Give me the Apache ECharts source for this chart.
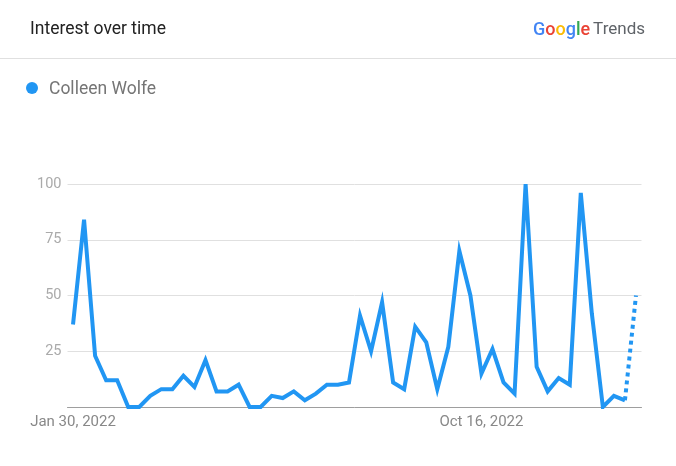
<!DOCTYPE html>
<html>
<head>
<meta charset="utf-8">
<script src="https://cdn.jsdelivr.net/npm/echarts@6/dist/echarts.min.js"></script>
<style>
html,body{margin:0;padding:0;background:#fff;}
#c{width:676px;height:466px;}
</style>
</head>
<body>
<div id="c"></div>
<script>
const weeks = [
 'Jan 30, 2022','Feb 6, 2022','Feb 13, 2022','Feb 20, 2022','Feb 27, 2022','Mar 6, 2022','Mar 13, 2022','Mar 20, 2022','Mar 27, 2022',
 'Apr 3, 2022','Apr 10, 2022','Apr 17, 2022','Apr 24, 2022','May 1, 2022','May 8, 2022','May 15, 2022','May 22, 2022','May 29, 2022',
 'Jun 5, 2022','Jun 12, 2022','Jun 19, 2022','Jun 26, 2022','Jul 3, 2022','Jul 10, 2022','Jul 17, 2022','Jul 24, 2022','Jul 31, 2022',
 'Aug 7, 2022','Aug 14, 2022','Aug 21, 2022','Aug 28, 2022','Sep 4, 2022','Sep 11, 2022','Sep 18, 2022','Sep 25, 2022','Oct 2, 2022',
 'Oct 9, 2022','Oct 16, 2022','Oct 23, 2022','Oct 30, 2022','Nov 6, 2022','Nov 13, 2022','Nov 20, 2022','Nov 27, 2022','Dec 4, 2022',
 'Dec 11, 2022','Dec 18, 2022','Dec 25, 2022','Jan 1, 2023','Jan 8, 2023','Jan 15, 2023','Jan 22, 2023'
];
const colleenWolfe = [
 37,84,23,12,12,0,0,5,8,8,14,9,21,7,7,10,0,0,5,4,7,3,6,10,10,11,41,25,47,11,8,36,29,8,27,70,50,15,26,11,6,100,18,7,13,10,96,42,0,5,3,50
];
const shownXLabels = ['Jan 30, 2022','Oct 16, 2022'];
const yTicks = [25,50,75,100];
const seriesName = 'Colleen Wolfe';

const lastIdx = colleenWolfe.length - 1;
const solidData = colleenWolfe.map((v,i)=> i < lastIdx ? v : null);
const dottedData = colleenWolfe.map((v,i)=> i >= lastIdx-1 ? v : null);
const blue = '#2196f3';

const chart = echarts.init(document.getElementById('c'), null, {renderer:'canvas'});
chart.setOption({
  animation:false,
  backgroundColor:'#fff',
  textStyle:{fontFamily:'Roboto'},
  grid:{left:67.5, right:34.5, top:184, bottom:59, containLabel:false},
  graphic:[
    {type:'text', left:30, top:21, style:{text:'Interest over time', fill:'#222', fontSize:17.5, fontFamily:'Roboto'}},
    {type:'line', shape:{x1:0,y1:58.5,x2:676,y2:58.5}, style:{stroke:'#e0e0e0', lineWidth:1}},
    {type:'circle', shape:{cx:32, cy:88, r:6}, style:{fill:blue}},
    {type:'text', left:49, top:81, style:{text:seriesName, fill:'#757575', fontSize:17.5, fontFamily:'Roboto'}},
    {type:'text', right:31, top:21, style:{
      text:'{b|G}{r|o}{y|o}{b|g}{g|l}{r|e} {t|Trends}',
      fontFamily:'Roboto',
      rich:{
        b:{fill:'#4285f4', fontSize:18, fontWeight:500, fontFamily:'Roboto'},
        r:{fill:'#ea4335', fontSize:18, fontWeight:500, fontFamily:'Roboto'},
        y:{fill:'#fbbc05', fontSize:18, fontWeight:500, fontFamily:'Roboto'},
        g:{fill:'#34a853', fontSize:18, fontWeight:500, fontFamily:'Roboto'},
        t:{fill:'#5f6368', fontSize:17, fontFamily:'Roboto'}
      }
    }}
  ],
  xAxis:{
    type:'category',
    data:weeks,
    boundaryGap:true,
    axisLine:{lineStyle:{color:'#9e9e9e', width:1}},
    axisTick:{show:false},
    axisLabel:{
      color:'#888', fontSize:15, margin:8, fontFamily:'Roboto',
      interval:(idx, val)=> shownXLabels.indexOf(val) >= 0
    },
    splitLine:{show:false}
  },
  yAxis:{
    type:'value', min:0, max:100, interval:25,
    axisLine:{show:false}, axisTick:{show:false},
    axisLabel:{color:'#aaa', fontSize:14.5, margin:6, fontFamily:'Roboto',
      formatter:(v)=> yTicks.indexOf(v) >= 0 ? String(v) : ''},
    splitLine:{lineStyle:{color:'#e0e0e0', width:1}}
  },
  series:[
    {type:'line', name:seriesName, data:solidData, symbol:'none', connectNulls:false,
     lineStyle:{color:blue, width:4, join:'miter'}, z:3},
    {type:'line', name:seriesName+' (partial)', data:dottedData, symbol:'none',
     lineStyle:{color:blue, width:4, type:[4,4]}, z:3}
  ]
});
</script>
</body>
</html>
